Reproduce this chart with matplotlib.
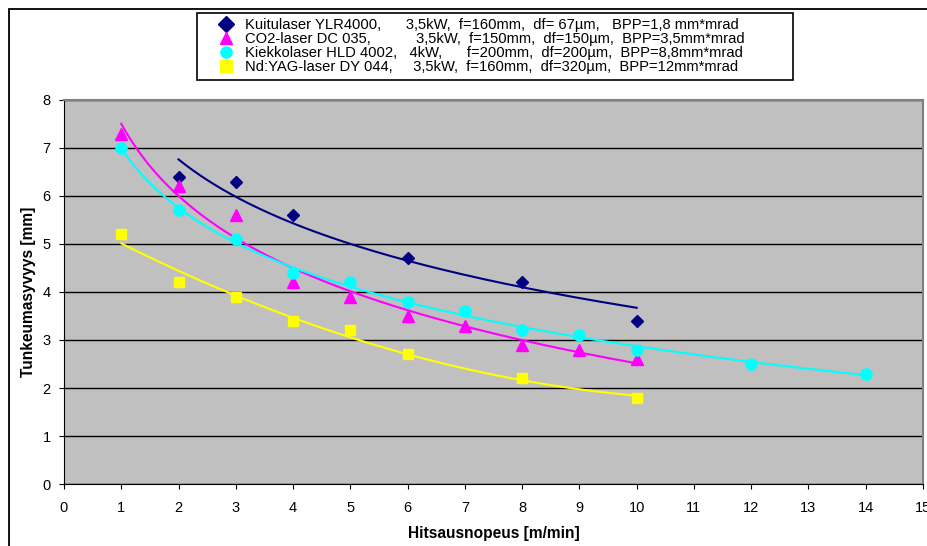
import matplotlib
matplotlib.use('Agg')
import matplotlib.pyplot as plt
from matplotlib.patches import Rectangle
import numpy as np

plt.rcParams['font.family'] = ['Liberation Sans', 'DejaVu Sans']

# --- data ---
x_kuitu = [2, 3, 4, 6, 8, 10]
y_kuitu = [6.4, 6.3, 5.6, 4.7, 4.2, 3.4]

x_co2 = [1, 2, 3, 4, 5, 6, 7, 8, 9, 10]
y_co2 = [7.3, 6.2, 5.6, 4.2, 3.9, 3.5, 3.3, 2.9, 2.8, 2.6]

x_kiekko = [1, 2, 3, 4, 5, 6, 7, 8, 9, 10, 12, 14]
y_kiekko = [7.0, 5.7, 5.1, 4.4, 4.2, 3.8, 3.6, 3.2, 3.1, 2.8, 2.5, 2.3]

x_yag = [1, 2, 3, 4, 5, 6, 8, 10]
y_yag = [5.2, 4.2, 3.9, 3.4, 3.2, 2.7, 2.2, 1.8]

labels = [
    "Kuitulaser YLR4000,      3,5kW,  f=160mm,  df= 67\u00b5m,   BPP=1,8 mm*mrad",
    "CO2-laser DC 035,           3,5kW,  f=150mm,  df=150\u00b5m,  BPP=3,5mm*mrad",
    "Kiekkolaser HLD 4002,   4kW,      f=200mm,  df=200\u00b5m,  BPP=8,8mm*mrad",
    "Nd:YAG-laser DY 044,     3,5kW,  f=160mm,  df=320\u00b5m,  BPP=12mm*mrad",
]

# (x, y, colour, marker, size, trendline type)
series = [
    (x_kuitu, y_kuitu, '#000080', 'D', 6, 'log'),
    (x_co2, y_co2, '#FF00FF', '^', 8, 'log'),
    (x_kiekko, y_kiekko, '#00FFFF', 'o', 8, 'log'),
    (x_yag, y_yag, '#FFFF00', 's', 7.5, 'poly2'),
]

fig = plt.figure(figsize=(9.28, 5.46), dpi=100)
W, H = 928, 546
ax = fig.add_axes([64 / W, 1 - 484 / H, (923 - 64) / W, (484 - 100) / H])
ax.set_facecolor('#C0C0C0')

# chart area border (left and top visible)
fig.add_artist(Rectangle((9 / W, -0.1), 1.2, 1 - 9 / H + 0.1, transform=fig.transFigure,
                         fill=False, edgecolor='black', linewidth=1.3))

handles = []
for (xs, ys, col, mk, ms, kind), lab in zip(series, labels):
    xs = np.array(xs, dtype=float); ys = np.array(ys, dtype=float)
    xt = np.linspace(xs.min(), xs.max(), 200)
    # Excel-style trendlines
    if kind == 'log':
        b, a = np.polyfit(np.log(xs), ys, 1)
        yt = a + b * np.log(xt)
    else:
        yt = np.polyval(np.polyfit(xs, ys, 2), xt)
    ax.plot(xt, yt, color=col, linewidth=1.5, zorder=2)
    h, = ax.plot(xs, ys, linestyle='none', marker=mk, markersize=ms, color=col,
                 markeredgecolor=col, zorder=3, label=lab)
    handles.append(h)

ax.set_xlim(0, 15)
ax.set_ylim(0, 8)
ax.set_xticks(range(0, 16))
ax.set_yticks(range(0, 9))
ax.yaxis.grid(True, color='black', linewidth=1)
ax.set_axisbelow(True)
for s in ['left', 'bottom']:
    ax.spines[s].set_color('black')
for s in ['top', 'right']:
    ax.spines[s].set_color('#808080')
    ax.spines[s].set_linewidth(1.5)
ax.tick_params(direction='out', length=3.5, labelsize=10.5, colors='black')
ax.tick_params(axis='x', pad=9)
ax.tick_params(axis='y', pad=6)
ax.set_xlabel("Hitsausnopeus [m/min]", fontsize=11.2, fontweight='bold', labelpad=8)
ax.set_ylabel("Tunkeumasyvyys [mm]", fontsize=11.2, fontweight='bold', labelpad=5)

# legend box drawn separately, legend itself without frame
fig.add_artist(Rectangle((197 / W, 1 - 80 / H), (793 - 197) / W, 67 / H,
                         transform=fig.transFigure, facecolor='white',
                         edgecolor='black', linewidth=1.2, zorder=1))
leg = fig.legend(handles=handles, loc='upper left', bbox_to_anchor=(219 / W, 1 - 18 / H),
                 fontsize=10.6, frameon=False, handlelength=1.0, handletextpad=0.75,
                 borderpad=0.0, labelspacing=0.0, borderaxespad=0)
leg.set_zorder(5)
for h in leg.legend_handles:
    h.set_markersize(8)

fig.savefig('out.png', dpi=100)
